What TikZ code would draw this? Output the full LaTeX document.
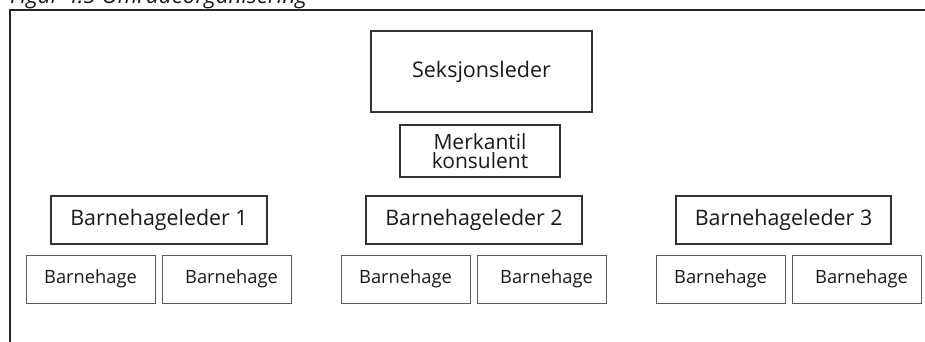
\documentclass[tikz,border=0pt]{standalone}
\usepackage{fontspec}
\setmainfont{Open Sans}
\begin{document}
\begin{tikzpicture}[x=1pt,y=-1pt,
  every node/.style={inner sep=0pt,outer sep=0pt,text=black!90},
  topbox/.style={draw=black!80,line width=1.3pt,rectangle},
  leadbox/.style={draw=black!80,line width=1.3pt,rectangle,minimum width=216pt,minimum height=48pt,font=\fontsize{21.4}{24}\selectfont},
  kgbox/.style={draw=black!65,line width=1pt,rectangle,minimum width=129pt,minimum height=48pt},
  kgtext/.style={font=\fontsize{18.3}{22}\selectfont}]
\useasboundingbox (0,0) rectangle (925,342);
% frame
\draw[line width=2.5pt,black!85] (940,10) -- (10,10) -- (10,360);
% title (cut off at top, as in the reference)
\node[anchor=base west,font=\itshape\fontsize{22.4}{26}\selectfont] (title) at (10,4) {Figur 4.5 Områdeorganisering};
% top
\node[topbox,minimum width=221pt,minimum height=81pt,font=\fontsize{21.5}{25}\selectfont] (sek) at (481.5,71.5) {Seksjonsleder};
\node[topbox,line width=1.2pt,minimum width=160pt,minimum height=52pt,align=center,font=\fontsize{21}{19}\selectfont] (merk) at (480,151) {Merkantil\\konsulent};
% leaders
\node[leadbox] (l1) at (159,220) {Barnehageleder 1};
\node[leadbox] (l2) at (474,220) {Barnehageleder 2};
\node[leadbox,minimum width=215pt] (l3) at (783.5,220) {Barnehageleder 3};
% kindergartens
\node[kgbox] (b11) at (90.5,279) {};
\node[kgbox] (b12) at (226.5,279) {};
\node[kgbox] (b21) at (405.5,279) {};
\node[kgbox] (b22) at (541.5,279) {};
\node[kgbox] (b31) at (720.5,279) {};
\node[kgbox] (b32) at (856.5,279) {};
\node[kgtext] (t11) at (b11.center) {Barnehage};
\node[kgtext,xshift=5pt] (t12) at (b12.center) {Barnehage};
\node[kgtext] (t21) at (b21.center) {Barnehage};
\node[kgtext,xshift=5pt] (t22) at (b22.center) {Barnehage};
\node[kgtext] (t31) at (b31.center) {Barnehage};
\node[kgtext,xshift=5pt] (t32) at (b32.center) {Barnehage};
\end{tikzpicture}
\end{document}
